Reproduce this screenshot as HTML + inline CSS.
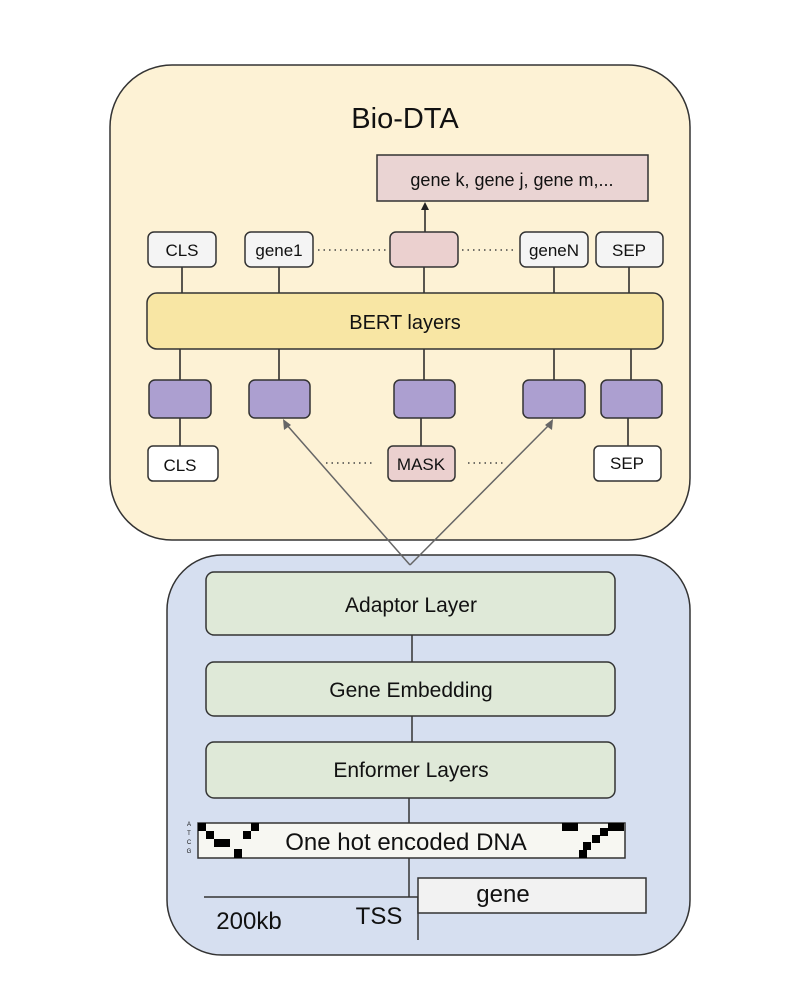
<!DOCTYPE html>
<html><head><meta charset="utf-8"><style>body{margin:0;background:#fff}svg{display:block}text{font-family:"Liberation Sans",sans-serif;fill:#111}</style></head><body>
<svg width="794" height="998" viewBox="0 0 794 998">
<rect x="110" y="65" width="580" height="475" rx="62" fill="#fdf2d5" stroke="#333" stroke-width="1.5"/>
<text x="405" y="128" font-size="29" text-anchor="middle">Bio-DTA</text>
<rect x="377" y="155" width="271" height="46" fill="#ead4d3" stroke="#333" stroke-width="1.5"/>
<text x="512" y="186" font-size="18" text-anchor="middle">gene k, gene j, gene m,...</text>
<line x1="425" y1="232" x2="425" y2="208" stroke="#222" stroke-width="1.5"/>
<polygon points="425,202 421,210 429,210" fill="#222"/>
<g stroke="#222" stroke-width="1.5">
<line x1="182" y1="267" x2="182" y2="293"/><line x1="279" y1="267" x2="279" y2="293"/><line x1="424" y1="267" x2="424" y2="293"/><line x1="554" y1="267" x2="554" y2="293"/><line x1="629" y1="267" x2="629" y2="293"/>
<line x1="180" y1="349" x2="180" y2="380"/><line x1="279" y1="349" x2="279" y2="380"/><line x1="424" y1="349" x2="424" y2="380"/><line x1="554" y1="349" x2="554" y2="380"/><line x1="631" y1="349" x2="631" y2="380"/>
<line x1="180" y1="418" x2="180" y2="446"/><line x1="421" y1="418" x2="421" y2="446"/><line x1="628" y1="418" x2="628" y2="446"/>
</g>
<g stroke="#444" stroke-width="1.5" stroke-dasharray="1.5,4">
<line x1="318" y1="250" x2="386" y2="250"/><line x1="462" y1="250" x2="516" y2="250"/>
<line x1="326" y1="463" x2="372" y2="463"/><line x1="468" y1="463" x2="506" y2="463"/>
</g>
<g stroke="#333" stroke-width="1.5">
<rect x="148" y="232" width="68" height="35" rx="6" fill="#f4f4f4"/>
<rect x="245" y="232" width="68" height="35" rx="6" fill="#f4f4f4"/>
<rect x="390" y="232" width="68" height="35" rx="6" fill="#ebd0cf"/>
<rect x="520" y="232" width="68" height="35" rx="6" fill="#f4f4f4"/>
<rect x="596" y="232" width="67" height="35" rx="6" fill="#f4f4f4"/>
<rect x="147" y="293" width="516" height="56" rx="10" fill="#f8e6a4"/>
<rect x="149" y="380" width="62" height="38" rx="6" fill="#ac9fd0"/>
<rect x="249" y="380" width="61" height="38" rx="6" fill="#ac9fd0"/>
<rect x="394" y="380" width="61" height="38" rx="6" fill="#ac9fd0"/>
<rect x="523" y="380" width="62" height="38" rx="6" fill="#ac9fd0"/>
<rect x="601" y="380" width="61" height="38" rx="6" fill="#ac9fd0"/>
<rect x="148" y="446" width="70" height="35" rx="5" fill="#fff"/>
<rect x="388" y="446" width="67" height="35" rx="5" fill="#ebd0cf"/>
<rect x="594" y="446" width="67" height="35" rx="5" fill="#fff"/>
</g>
<g font-size="17" text-anchor="middle">
<text x="182" y="256">CLS</text><text x="279" y="256">gene1</text><text x="554" y="256">geneN</text><text x="629" y="256">SEP</text>
<text x="405" y="329" font-size="20">BERT layers</text>
<text x="180" y="471">CLS</text><text x="421" y="470">MASK</text><text x="627" y="469">SEP</text>
</g>
<rect x="167" y="555" width="523" height="400" rx="55" fill="#d6dff0" stroke="#333" stroke-width="1.5"/>
<g stroke="#666" stroke-width="1.5">
<line x1="410" y1="565" x2="286" y2="424"/><line x1="410" y1="565" x2="550" y2="424"/>
</g>
<polygon points="283,419 284,430 291,425" fill="#666"/>
<polygon points="553,419 545,425 552,430" fill="#666"/>
<g stroke="#333" stroke-width="1.5">
<line x1="412" y1="635" x2="412" y2="662"/><line x1="412" y1="716" x2="412" y2="742"/><line x1="409" y1="798" x2="409" y2="823"/>
<line x1="409" y1="858" x2="409" y2="897"/><line x1="204" y1="897" x2="418" y2="897"/><line x1="418" y1="897" x2="418" y2="940"/>
<rect x="206" y="572" width="409" height="63" rx="8" fill="#dfe9d8"/>
<rect x="206" y="662" width="409" height="54" rx="8" fill="#dfe9d8"/>
<rect x="206" y="742" width="409" height="56" rx="8" fill="#dfe9d8"/>
<rect x="198" y="823" width="427" height="35" fill="#f7f7f2"/>
<rect x="418" y="878" width="228" height="35" fill="#f2f2f2"/>
</g>
<g fill="#000">
<rect x="198" y="823" width="8" height="8"/><rect x="206" y="831" width="8" height="8"/><rect x="214" y="839" width="8" height="8"/><rect x="222" y="839" width="8" height="8"/><rect x="234" y="849" width="8" height="9"/><rect x="243" y="831" width="8" height="8"/><rect x="251" y="823" width="8" height="8"/>
<rect x="562" y="823" width="8" height="8"/><rect x="570" y="823" width="8" height="8"/><rect x="583" y="842" width="8" height="8"/><rect x="592" y="835" width="8" height="8"/><rect x="600" y="828" width="8" height="8"/><rect x="608" y="823" width="8" height="8"/><rect x="616" y="823" width="8" height="8"/><rect x="579" y="850" width="8" height="8"/>
</g>
<g font-size="6" text-anchor="middle"><text x="189" y="826">A</text><text x="189" y="835">T</text><text x="189" y="844">C</text><text x="189" y="853">G</text></g>
<g text-anchor="middle">
<text x="411" y="612" font-size="21">Adaptor Layer</text>
<text x="411" y="697" font-size="21">Gene Embedding</text>
<text x="411" y="777" font-size="21">Enformer Layers</text>
<text x="406" y="850" font-size="24">One hot encoded DNA</text>
<text x="503" y="902" font-size="24">gene</text>
<text x="249" y="929" font-size="24">200kb</text>
<text x="379" y="924" font-size="24">TSS</text>
</g>
</svg>
</body></html>
